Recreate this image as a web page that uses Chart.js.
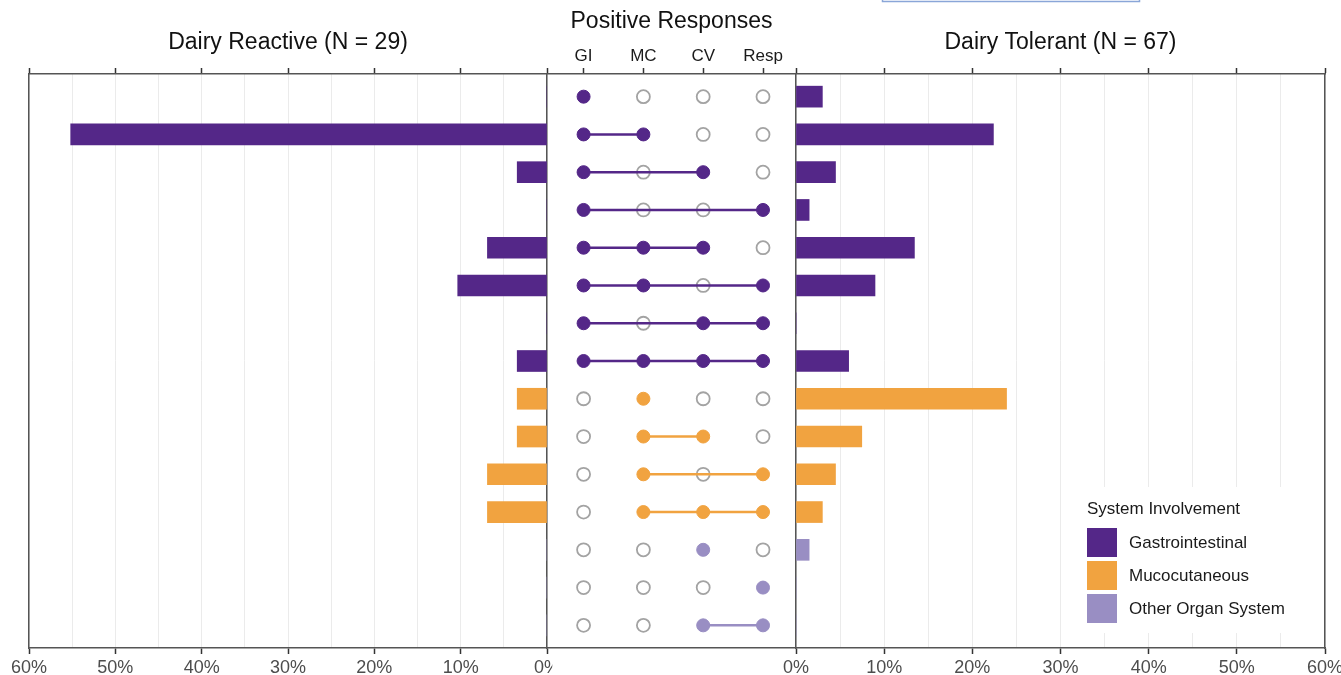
<!DOCTYPE html>
<html>
<head>
<meta charset="utf-8">
<title>Symptom profiles by dairy reactivity</title>
<script src="https://cdn.jsdelivr.net/npm/chart.js@4.4.1/dist/chart.umd.min.js"></script>
<style>
  html, body { margin: 0; padding: 0; background: #fff; }
  #wrap { position: relative; width: 1341px; height: 675px; overflow: hidden; background: #fff; }
  #wrap canvas { position: absolute; top: 0; }
</style>
</head>
<body>
<div id="wrap">
  <canvas id="reactive" width="575" height="675" style="left:0px"></canvas>
  <canvas id="profiles" width="263" height="675" style="left:540px"></canvas>
  <canvas id="tolerant" width="588" height="675" style="left:766px"></canvas>
</div>
<script>
// ---- data ----
const responseTypes = ['GI', 'MC', 'CV', 'Resp'];

// positive-response combination for each row, top to bottom
const profiles = [
  ['GI'],
  ['GI', 'MC'],
  ['GI', 'CV'],
  ['GI', 'Resp'],
  ['GI', 'MC', 'CV'],
  ['GI', 'MC', 'Resp'],
  ['GI', 'CV', 'Resp'],
  ['GI', 'MC', 'CV', 'Resp'],
  ['MC'],
  ['MC', 'CV'],
  ['MC', 'Resp'],
  ['MC', 'CV', 'Resp'],
  ['CV'],
  ['Resp'],
  ['CV', 'Resp']
];

const systemNames = ['Gastrointestinal', 'Mucocutaneous', 'Other Organ System'];
const systemColors = ['#542788', '#f1a340', '#998ec3'];
// index into systemNames for each row
const rowSystem = [0, 0, 0, 0, 0, 0, 0, 0, 1, 1, 1, 1, 2, 2, 2];

// share of each group (%) showing each profile
const reactivePct = [0, 55.17, 3.45, 0, 6.90, 10.34, 0, 3.45, 3.45, 3.45, 6.90, 6.90, 0, 0, 0];
const tolerantPct = [2.99, 22.39, 4.48, 1.49, 13.43, 8.96, 0, 5.97, 23.88, 7.46, 4.48, 2.99, 1.49, 0, 0];

const pctTicks = [0, 10, 20, 30, 40, 50, 60];
const reactiveTitle = 'Dairy Reactive (N = 29)';
const tolerantTitle = 'Dairy Tolerant (N = 67)';
const profileTitle = 'Positive Responses';

// ---- shared styling ----
const FONT = "'Liberation Sans', Arial, Helvetica, sans-serif";
Chart.defaults.font.family = FONT;
Chart.defaults.color = '#333';

const AXIS_COLOR = '#555555';
const AXIS_WIDTH = 1.5;
const GRID_COLOR = '#ebebeb';
const TICK_COLOR = '#333333';
const TOP_HEIGHT = 74;
const BOTTOM_HEIGHT = 27;
const ROW_MIN = 0.4;
const ROW_MAX = profiles.length + 0.6;

const fixHeight = h => scale => { scale.height = h; };
const fixWidth = w => scale => { scale.width = w; };
const border = { display: true, color: AXIS_COLOR, width: AXIS_WIDTH };

function rowAxis(position, showBorder = true) {
  return {
    type: 'linear', position, min: ROW_MIN, max: ROW_MAX, reverse: true, offset: false,
    ticks: { display: false },
    grid: { display: false, drawTicks: false, offset: false },
    border: showBorder ? border : { display: false },
    afterFit: fixWidth(0)
  };
}

function pctBottomAxis(reverse) {
  return {
    type: 'linear', position: 'bottom', min: 0, max: 60, reverse, offset: false,
    ticks: {
      stepSize: 5, autoSkip: false, maxRotation: 0, padding: 3,
      color: '#4d4d4d', font: { size: 18 },
      callback: v => (pctTicks.includes(v) ? v + '%' : '')
    },
    grid: {
      color: GRID_COLOR, lineWidth: 1, tickLength: 6, tickWidth: AXIS_WIDTH,
      tickColor: c => (c.tick && pctTicks.includes(c.tick.value) ? TICK_COLOR : 'rgba(0,0,0,0)')
    },
    border,
    afterFit: fixHeight(BOTTOM_HEIGHT)
  };
}

function pctTopAxis(reverse, title) {
  return {
    type: 'linear', position: 'top', min: 0, max: 60, reverse, offset: false,
    ticks: { display: false, stepSize: 10 },
    grid: { drawOnChartArea: false, tickLength: 6, tickWidth: AXIS_WIDTH, tickColor: TICK_COLOR },
    border,
    title: { display: true, text: title, color: '#111', font: { size: 23 }, padding: { top: 29, bottom: 0 } },
    afterFit: fixHeight(TOP_HEIGHT)
  };
}

function barChart(canvasId, values, reverse, title, padding, plugins) {
  return new Chart(document.getElementById(canvasId), {
    type: 'bar',
    data: {
      datasets: [{
        data: values.map((v, r) => ({ x: v, y: r + 1 })),
        backgroundColor: rowSystem.map(s => systemColors[s]),
        borderWidth: 0,
        barThickness: 21,
        grouped: false
      }]
    },
    options: {
      indexAxis: 'y',
      responsive: false,
      animation: false,
      events: [],
      layout: { padding },
      scales: {
        x: pctBottomAxis(reverse),
        xTop: pctTopAxis(reverse, title),
        y: rowAxis(reverse ? 'right' : 'left'),
        yOuter: rowAxis(reverse ? 'left' : 'right')
      },
      plugins: { legend: { display: false }, tooltip: { enabled: false } }
    },
    plugins: plugins || []
  });
}

// legend for the organ systems, placed in the lower right of the plot area
const systemLegend = {
  id: 'systemLegend',
  afterDraw(chart) {
    const { ctx, chartArea } = chart;
    const w = 235, h = 146;
    const right = chartArea.right - 14;
    const bottom = chartArea.bottom - 15;
    const left = right - w, top = bottom - h;
    ctx.save();
    ctx.fillStyle = '#ffffff';
    ctx.fillRect(left, top, w, h);
    ctx.fillStyle = '#1a1a1a';
    ctx.font = '17px ' + FONT;
    ctx.textBaseline = 'middle';
    ctx.textAlign = 'left';
    ctx.fillText('System Involvement', left + 11, top + 22);
    systemNames.forEach((name, i) => {
      const sy = top + 41 + i * 33;
      ctx.fillStyle = systemColors[i];
      ctx.fillRect(left + 11, sy, 30, 29);
      ctx.fillStyle = '#1a1a1a';
      ctx.fillText(name, left + 53, sy + 15);
    });
    ctx.restore();
  }
};

// thin frame edge along the top of the page
const headerFrame = {
  id: 'headerFrame',
  afterDraw(chart) {
    const { ctx, chartArea } = chart;
    ctx.save();
    ctx.strokeStyle = '#8aa6d8';
    ctx.lineWidth = 1.5;
    ctx.strokeRect(chartArea.left + 86.5, -10, 257, 11.5);
    ctx.restore();
  }
};

// white panel behind the response matrix
const panelFill = {
  id: 'panelFill',
  beforeDraw(chart) {
    const { ctx, chartArea, height } = chart;
    ctx.save();
    ctx.fillStyle = '#ffffff';
    ctx.fillRect(chartArea.left + 4, 0, chartArea.width - 5, height);
    ctx.restore();
  }
};

// ---- left: dairy reactive ----
barChart('reactive', reactivePct, true, reactiveTitle, { left: 29, right: 28, top: 0, bottom: 0 });

// ---- centre: response matrix ----
const absentPoints = [];
profiles.forEach((p, r) => responseTypes.forEach((t, c) => {
  if (!p.includes(t)) absentPoints.push({ x: c + 1, y: r + 1 });
}));

const profileSets = profiles.map((p, r) => {
  const color = systemColors[rowSystem[r]];
  return {
    data: responseTypes.map((t, c) => (p.includes(t) ? { x: c + 1, y: r + 1 } : null)).filter(Boolean),
    showLine: true,
    borderColor: color,
    borderWidth: 2.5,
    pointRadius: 6.5,
    pointBackgroundColor: color,
    pointBorderColor: color,
    pointBorderWidth: 1,
    order: 0
  };
});

const COL_MIN = 0.41, COL_MAX = 4.53;
new Chart(document.getElementById('profiles'), {
  type: 'scatter',
  data: {
    datasets: [
      ...profileSets,
      {
        data: absentPoints,
        showLine: false,
        pointRadius: 6.5,
        pointBackgroundColor: 'rgba(255,255,255,0)',
        pointBorderColor: '#a3a3a3',
        pointBorderWidth: 1.8,
        order: 1
      }
    ]
  },
  options: {
    responsive: false,
    animation: false,
    events: [],
    layout: { padding: { left: 7, right: 7, top: 0, bottom: 0 } },
    scales: {
      x: {
        type: 'linear', position: 'bottom', min: COL_MIN, max: COL_MAX,
        ticks: { display: false },
        grid: { display: false, drawTicks: false },
        border,
        afterFit: fixHeight(BOTTOM_HEIGHT)
      },
      xTop: {
        type: 'linear', position: 'top', min: COL_MIN, max: COL_MAX,
        afterBuildTicks: s => { s.ticks = responseTypes.map((_, i) => ({ value: i + 1 })); },
        ticks: {
          autoSkip: false, maxRotation: 0, padding: 1,
          color: '#1a1a1a', font: { size: 17 },
          callback: v => responseTypes[Math.round(v) - 1] || ''
        },
        grid: { drawOnChartArea: false, tickLength: 6, tickWidth: AXIS_WIDTH, tickColor: TICK_COLOR },
        border,
        title: { display: true, text: profileTitle, color: '#111', font: { size: 23 }, padding: { top: 8, bottom: 0 } },
        afterFit: fixHeight(TOP_HEIGHT)
      },
      // side panels already draw the vertical frame lines
      y: rowAxis('left', false),
      yOuter: rowAxis('right', false)
    },
    plugins: { legend: { display: false }, tooltip: { enabled: false } }
  },
  plugins: [panelFill]
});

// ---- right: dairy tolerant ----
barChart('tolerant', tolerantPct, false, tolerantTitle, { left: 30, right: 29, top: 0, bottom: 0 }, [systemLegend, headerFrame]);
</script>
</body>
</html>
